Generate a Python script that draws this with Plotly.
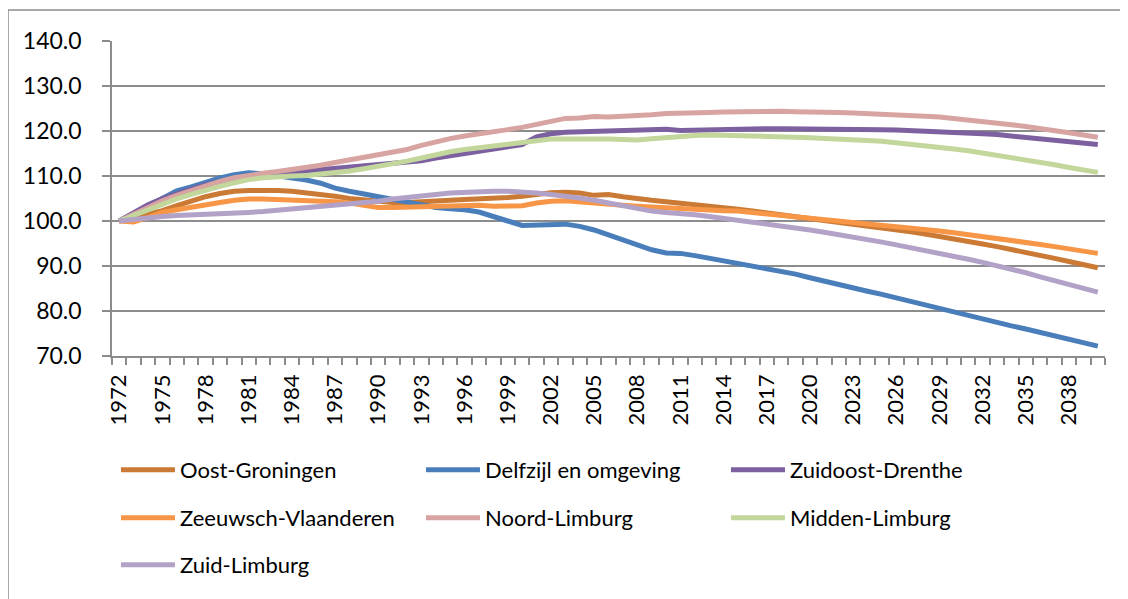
import plotly.graph_objects as go

years = list(range(1972, 2041))

oost_groningen = [100.0, 100.7, 101.5, 102.3, 103.4, 104.4, 105.4, 106.1, 106.6, 106.8,
                  106.9, 106.8, 106.6, 106.3, 105.9, 105.5, 105.0, 104.7, 104.4, 104.1,
                  104.1, 104.2, 104.4, 104.6, 104.8, 104.9, 105.0, 105.2, 105.5, 106.0,
                  106.3, 106.4, 106.2, 105.7, 105.9, 105.4, 104.9, 104.6, 104.3, 104.0,
                  103.7, 103.3, 103.0, 102.6, 102.2, 101.8, 101.4, 101.0, 100.6, 100.2,
                  99.8, 99.4, 99.0, 98.6, 98.1, 97.6, 97.1, 96.6, 96.0, 95.5,
                  94.9, 94.3, 93.7, 93.1, 92.4, 91.7, 91.0, 90.3, 89.6]

delfzijl = [100.0, 101.7, 103.5, 105.2, 106.7, 107.6, 108.7, 109.6, 110.3, 110.7,
            110.5, 110.1, 109.7, 109.1, 108.4, 107.3, 106.6, 106.0, 105.3, 104.8,
            104.3, 103.6, 103.0, 102.7, 102.5, 102.0, 100.9, 100.0, 99.0, 99.1,
            99.2, 99.3, 98.8, 98.0, 96.9, 95.8, 94.8, 93.6, 92.9, 92.8,
            92.3, 91.7, 91.2, 90.6, 90.1, 89.5, 88.9, 88.2, 87.4, 86.6,
            85.8, 85.1, 84.4, 83.7, 82.9, 82.2, 81.4, 80.6, 79.8, 79.0,
            78.2, 77.5, 76.7, 76.0, 75.2, 74.5, 73.7, 72.9, 72.2]

zuidoost_drenthe = [100.0, 101.8, 103.6, 105.0, 106.1, 107.1, 108.0, 108.8, 109.5, 110.0,
                    110.3, 110.6, 110.8, 111.1, 111.4, 111.7, 112.0, 112.3, 112.6, 112.9,
                    113.1, 113.4, 114.0, 114.5, 115.0, 115.4, 115.9, 116.4, 117.0, 118.7,
                    119.4, 119.7, 119.8, 119.9, 119.9, 120.0, 120.1, 120.2, 120.4, 120.1,
                    120.2, 120.3, 120.4, 120.4, 120.5, 120.5, 120.5, 120.5, 120.5, 120.5,
                    120.5, 120.4, 120.4, 120.3, 120.2, 120.1, 120.0, 119.9, 119.8, 119.6,
                    119.4, 119.2, 118.9, 118.6, 118.3, 118.0, 117.7, 117.3, 117.0]

zeeuwsch_vlaanderen = [100.0, 99.8, 100.8, 101.9, 102.5, 103.1, 103.6, 104.1, 104.6, 104.9,
                       104.9, 104.8, 104.7, 104.4, 104.3, 104.3, 104.0, 103.6, 103.0, 103.0,
                       103.1, 103.3, 103.4, 103.5, 103.6, 103.5, 103.3, 103.3, 103.4, 104.0,
                       104.4, 104.5, 104.2, 103.9, 103.7, 103.5, 103.3, 103.1, 102.9, 102.8,
                       102.6, 102.5, 102.3, 102.2, 101.9, 101.6, 101.3, 100.9, 100.6, 100.3,
                       100.0, 99.7, 99.4, 99.1, 98.8, 98.5, 98.2, 97.8, 97.4, 97.0,
                       96.6, 96.1, 95.7, 95.3, 94.8, 94.3, 93.8, 93.3, 92.8]

noord_limburg = [100.0, 101.5, 103.2, 104.5, 105.7, 106.8, 107.9, 108.8, 109.6, 110.2,
                 110.6, 111.0, 111.4, 111.9, 112.4, 113.0, 113.6, 114.1, 114.7, 115.3,
                 115.9, 116.8, 117.6, 118.3, 118.9, 119.3, 119.8, 120.3, 120.8, 121.5,
                 122.3, 122.8, 122.9, 123.2, 123.1, 123.2, 123.3, 123.6, 123.9, 123.9,
                 124.0, 124.1, 124.2, 124.3, 124.3, 124.4, 124.4, 124.3, 124.3, 124.2,
                 124.1, 124.0, 123.9, 123.8, 123.7, 123.5, 123.3, 123.1, 122.8, 122.5,
                 122.2, 121.8, 121.4, 121.0, 120.6, 120.1, 119.6, 119.1, 118.6]

midden_limburg = [100.0, 101.2, 102.5, 103.8, 104.9, 105.9, 106.9, 107.7, 108.5, 109.2,
                  109.6, 109.9, 110.0, 110.1, 110.4, 110.7, 111.1, 111.6, 112.1, 112.8,
                  113.3, 114.0, 114.8, 115.4, 115.9, 116.3, 116.6, 117.0, 117.5, 117.9,
                  118.2, 118.2, 118.1, 118.2, 118.2, 118.2, 118.0, 118.3, 118.6, 118.8,
                  119.0, 119.1, 119.1, 119.0, 118.9, 118.8, 118.8, 118.6, 118.5, 118.4,
                  118.3, 118.1, 117.9, 117.7, 117.4, 117.1, 116.8, 116.5, 116.0, 115.6,
                  115.1, 114.7, 114.2, 113.6, 113.0, 112.5, 111.9, 111.3, 110.8]

zuid_limburg = [100.0, 100.4, 100.8, 101.0, 101.2, 101.3, 101.4, 101.5, 101.7, 101.9,
                102.1, 102.4, 102.7, 102.9, 103.1, 103.4, 103.7, 104.0, 104.4, 104.9,
                105.3, 105.7, 105.9, 106.2, 106.4, 106.6, 106.6, 106.6, 106.5, 106.2,
                105.9, 105.6, 105.1, 104.6, 104.0, 103.2, 102.6, 102.2, 101.9, 101.7,
                101.4, 101.0, 100.6, 100.2, 99.8, 99.4, 99.0, 98.5, 98.0, 97.5,
                97.0, 96.4, 95.9, 95.3, 94.7, 94.1, 93.5, 92.9, 92.2, 91.5,
                90.8, 90.1, 89.3, 88.5, 87.6, 86.8, 86.0, 85.1, 84.2]

series_names = ["Oost-Groningen", "Delfzijl en omgeving", "Zuidoost-Drenthe",
                "Zeeuwsch-Vlaanderen", "Noord-Limburg", "Midden-Limburg", "Zuid-Limburg"]
series_values = [oost_groningen, delfzijl, zuidoost_drenthe, zeeuwsch_vlaanderen,
                 noord_limburg, midden_limburg, zuid_limburg]
series_colors = ["#CB7A35", "#4A7EBB", "#7D60A0", "#F79646", "#D8A4A2", "#C3D69B", "#B3A2C7"]
legend_rows = ["legend", "legend", "legend", "legend2", "legend2", "legend2", "legend3"]

FONT = "Lato, 'Open Sans', sans-serif"
GRID = "#8C8C8C"

fig = go.Figure()
for name, vals, col, lg in zip(series_names, series_values, series_colors, legend_rows):
    fig.add_trace(go.Scatter(x=years, y=vals, name=name, mode="lines",
                             line=dict(color=col, width=5), legend=lg))

leg_common = dict(orientation="h", xanchor="left", yanchor="middle", x=0.004,
                  font=dict(family=FONT, size=22, color="black"),
                  entrywidth=236, entrywidthmode="pixels", itemwidth=54,
                  bgcolor="rgba(0,0,0,0)")

fig.update_layout(
    width=1120, height=591,
    margin=dict(l=104, r=23, t=33, b=243, autoexpand=False),
    paper_bgcolor="white", plot_bgcolor="white",
    font=dict(family=FONT, size=23, color="black"),
    legend=dict(y=-0.362, **leg_common),
    legend2=dict(y=-0.514, **leg_common),
    legend3=dict(y=-0.663, **leg_common),
    xaxis=dict(range=[1971.5, 2040.5], tickmode="linear", tick0=1972, dtick=3,
               tickangle=-90, ticks="", showgrid=False, showline=True,
               linecolor=GRID, linewidth=1.5, ticklabelstandoff=8,
               tickfont=dict(family=FONT, size=22, color="black"),
               minor=dict(ticks="outside", tick0=1971.5, dtick=1, ticklen=7,
                          tickcolor=GRID, tickwidth=1.5, showgrid=False),
               zeroline=False, automargin=False),
    yaxis=dict(range=[70, 140], tickmode="linear", tick0=70, dtick=10,
               tickformat=".1f", ticks="outside", ticklen=8, tickcolor=GRID,
               tickwidth=1.5, showgrid=True, gridcolor=GRID, gridwidth=1.5,
               showline=True, linecolor=GRID, linewidth=1.5, ticklabelstandoff=16,
               tickfont=dict(family=FONT, size=23, color="black"), zeroline=False,
               automargin=False),
)

# chart-area border (top and left edges visible)
fig.add_shape(type="line", xref="paper", yref="paper", x0=-104/993, x1=1.1,
              y0=1 + 31/315, y1=1 + 31/315, line=dict(color=GRID, width=1.5))
fig.add_shape(type="line", xref="paper", yref="paper", x0=-104/993, x1=-104/993,
              y0=1 + 31/315, y1=-1.0, line=dict(color=GRID, width=1.5))

fig.write_html("out.html")
